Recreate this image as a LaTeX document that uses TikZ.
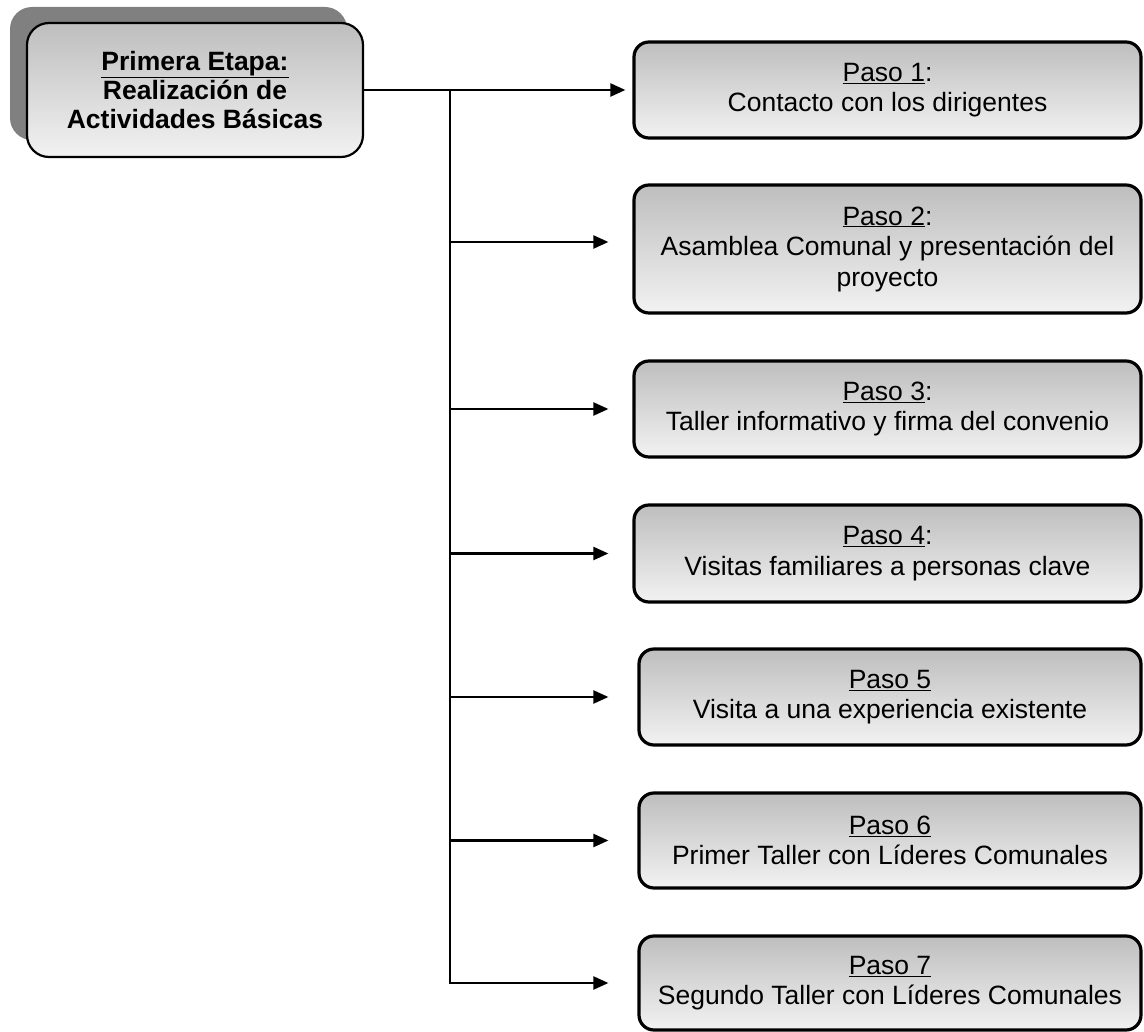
\documentclass[tikz,border=0pt]{standalone}
\usepackage{fontspec}
\setmainfont{Liberation Sans}
\usetikzlibrary{arrows.meta}
\definecolor{shadowgray}{HTML}{808080}
\definecolor{topgray}{HTML}{BEBEBE}
\definecolor{botgray}{HTML}{F2F2F2}
\begin{document}
\begin{tikzpicture}[x=1pt,y=-1pt,
  stepbox/.style={draw=black, line width=3.2pt, rounded corners=15pt,
    top color=topgray, bottom color=botgray, align=center, inner sep=0pt,
    font=\fontsize{26.5}{30.5}\selectfont, minimum width=507pt},
  stepboxb/.style={stepbox, minimum width=502pt},
  titlebox/.style={draw=black, line width=2.2pt, rounded corners=22pt,
    top color=topgray, bottom color=botgray, align=center, inner sep=0pt,
    font=\fontsize{26.5}{29}\selectfont\bfseries,
    minimum width=336pt, minimum height=134pt},
  shadowbox/.style={fill=shadowgray, rounded corners=22pt, inner sep=0pt,
    minimum width=337pt, minimum height=133pt},
  conn/.style={line width=2.2pt},
  arr/.style={conn, -{Triangle[length=15pt,width=13pt]}}]
\useasboundingbox (0,0) rectangle (1144,1032);

\node[shadowbox] (shadow) at (178.5,73.5) {};
\node[titlebox] (main) at (195,90) {\underline{Primera Etapa:}\\Realización de\\Actividades Básicas};

\node[stepbox, minimum height=96pt] (b1) at (887.5,90) {\underline{Paso 1}:\\Contacto con los dirigentes};
\node[stepbox, minimum height=128pt] (b2) at (887.5,249) {\underline{Paso 2}:\\Asamblea Comunal y presentación del\\proyecto};
\node[stepbox, minimum height=96pt] (b3) at (887.5,409) {\underline{Paso 3}:\\Taller informativo y firma del convenio};
\node[stepbox, minimum height=97pt] (b4) at (887.5,553.5) {\underline{Paso 4}:\\Visitas familiares a personas clave};
\node[stepboxb, minimum height=96pt] (b5) at (890,697) {\underline{Paso 5}\\Visita a una experiencia existente};
\node[stepboxb, minimum height=95pt] (b6) at (890,840.5) {\underline{Paso 6}\\Primer Taller con Líderes Comunales};
\node[stepboxb, minimum height=94pt] (b7) at (890,983) {\underline{Paso 7}\\Segundo Taller con Líderes Comunales};

\coordinate (j1) at (450,90);
\coordinate (j2) at (450,242);
\coordinate (j3) at (450,409);
\coordinate (j4) at (450,553.5);
\coordinate (j5) at (450,697);
\coordinate (j6) at (450,840.5);
\coordinate (j7) at (450,983);

\draw[arr, shorten >=7pt] (main.east) -- (b1.west);
\draw[conn, line cap=rect] (j1) -- (j7);
\draw[arr, shorten >=24pt] (j2) -- (j2 -| b2.west);
\draw[arr, shorten >=24pt] (j3) -- (j3 -| b3.west);
\draw[arr, shorten >=24pt] (j4) -- (j4 -| b4.west);
\draw[arr, shorten >=29pt] (j5) -- (j5 -| b5.west);
\draw[arr, shorten >=29pt] (j6) -- (j6 -| b6.west);
\draw[arr, shorten >=29pt] (j7) -- (j7 -| b7.west);
\end{tikzpicture}
\end{document}
